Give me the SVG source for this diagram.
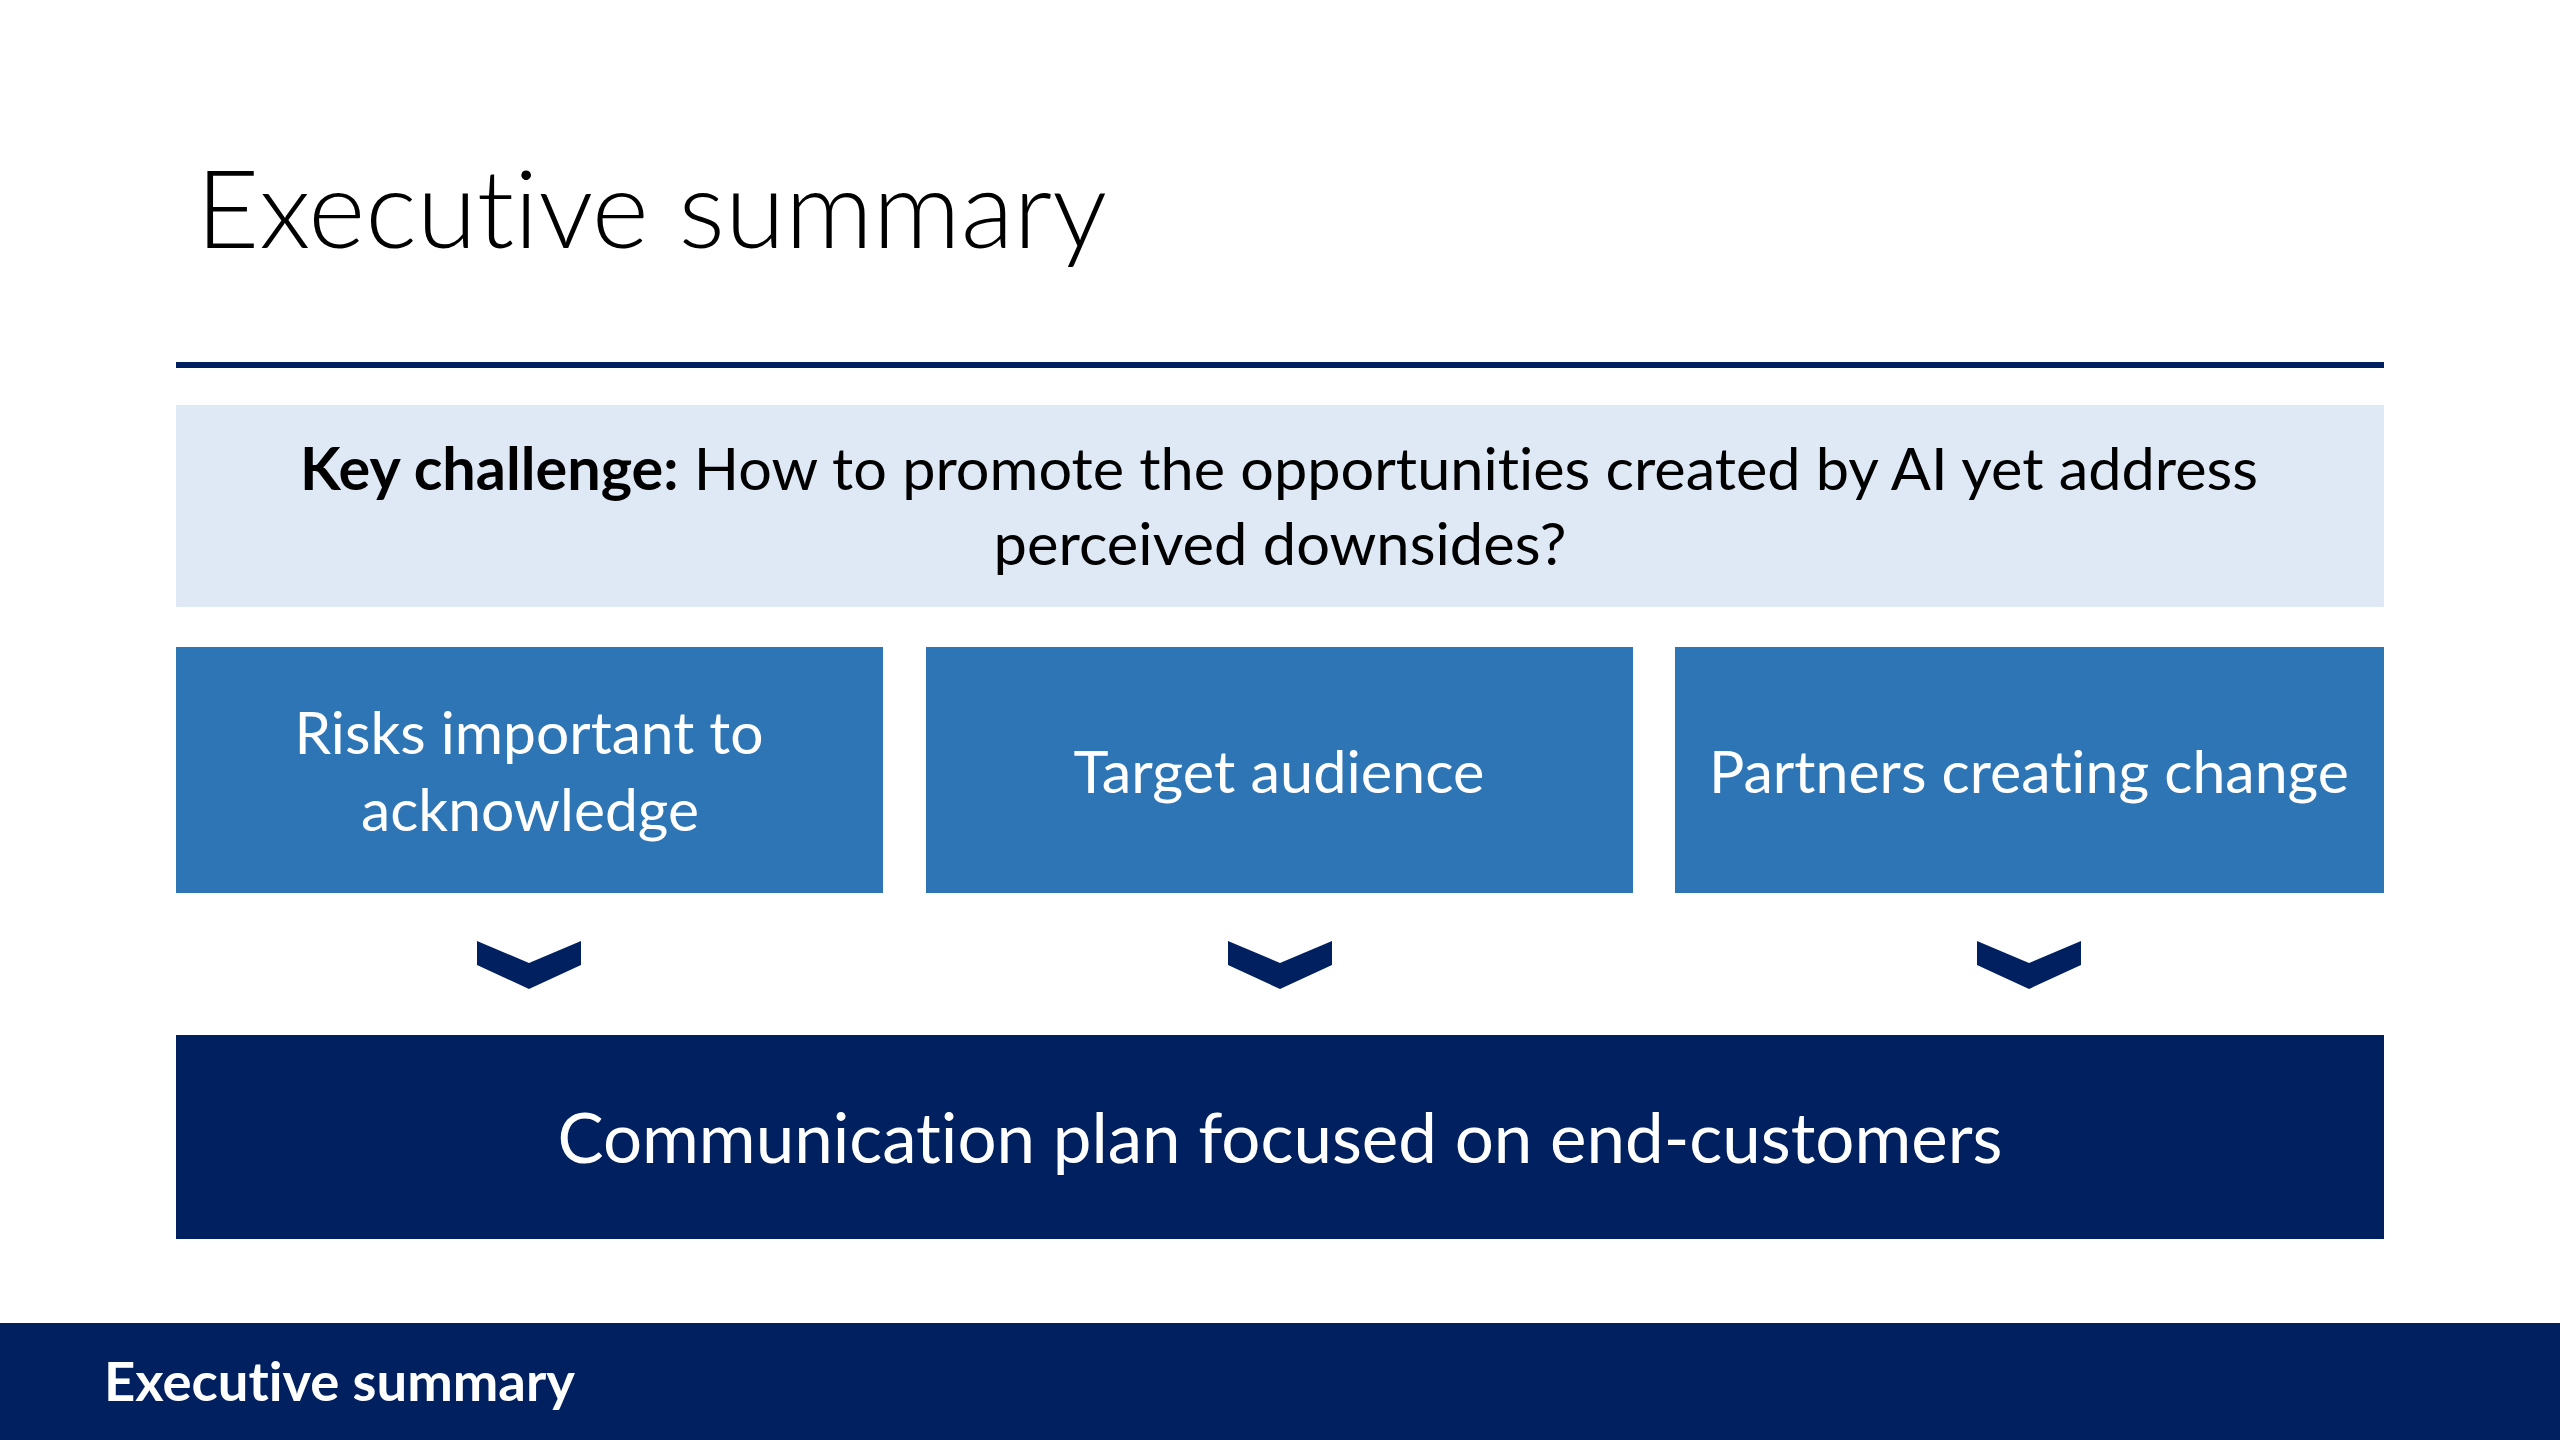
<svg xmlns="http://www.w3.org/2000/svg" width="2560" height="1440" viewBox="0 0 2560 1440">
  <defs>
    <style>
      .t { font-family: Lato, "Open Sans", "Liberation Sans", sans-serif; font-variant-ligatures: none; font-feature-settings: "liga" 0, "clig" 0, "dlig" 0; }
      .title { font-size: 108px; font-weight: 300; fill: #000000; }
      .kc { font-size: 59px; fill: #000000; }
      .bx { fill: #2e75b6; }
      .bxt { font-size: 59px; fill: #ffffff; }
      .navy { fill: #002060; }
      .bottomt { font-size: 69px; fill: #ffffff; }
      .foot { font-size: 54px; font-weight: 700; fill: #ffffff; }
    </style>
    <polygon id="chev" points="-52,0 0,22 52,0 52,24 0,48 -52,24" fill="#002060"/>
  </defs>
  <rect width="2560" height="1440" fill="#ffffff"/>

  <g id="title">
    <text class="t title" x="196" y="248" textLength="911" lengthAdjust="spacingAndGlyphs">Executive summary</text>
  </g>
  <rect id="rule" x="176" y="362" width="2208" height="6" class="navy"/>

  <g id="key-challenge">
    <rect x="176" y="405" width="2208" height="202" fill="#dee9f5"/>
    <text class="t kc" x="1279" y="490" text-anchor="middle" textLength="1958" lengthAdjust="spacingAndGlyphs"><tspan font-weight="700">Key challenge:</tspan> How to promote the opportunities created by AI yet address</text>
    <text class="t kc" x="1280" y="565" text-anchor="middle" textLength="573" lengthAdjust="spacingAndGlyphs">perceived downsides?</text>
  </g>

  <g id="risks">
    <rect class="bx" x="176" y="647" width="707" height="246"/>
    <text class="t bxt" x="529" y="754" text-anchor="middle" textLength="469" lengthAdjust="spacingAndGlyphs">Risks important to</text>
    <text class="t bxt" x="530" y="831" text-anchor="middle" textLength="338" lengthAdjust="spacingAndGlyphs">acknowledge</text>
  </g>
  <g id="target-audience">
    <rect class="bx" x="926" y="647" width="707" height="246"/>
    <text class="t bxt" x="1279" y="793" text-anchor="middle" textLength="411" lengthAdjust="spacingAndGlyphs">Target audience</text>
  </g>
  <g id="partners">
    <rect class="bx" x="1675" y="647" width="709" height="246"/>
    <text class="t bxt" x="2029" y="793" text-anchor="middle" textLength="640" lengthAdjust="spacingAndGlyphs">Partners creating change</text>
  </g>

  <g id="connectors">
    <use href="#chev" x="529" y="941"/>
    <use href="#chev" x="1280" y="941"/>
    <use href="#chev" x="2029" y="941"/>
  </g>

  <g id="communication-plan">
    <rect class="navy" x="176" y="1035" width="2208" height="204"/>
    <text class="t bottomt" x="1280" y="1163" text-anchor="middle" textLength="1445" lengthAdjust="spacingAndGlyphs">Communication plan focused on end-customers</text>
  </g>

  <g id="footer">
    <rect class="navy" x="0" y="1323" width="2560" height="117"/>
    <text class="t foot" x="104" y="1401" textLength="471" lengthAdjust="spacingAndGlyphs">Executive summary</text>
  </g>
</svg>
